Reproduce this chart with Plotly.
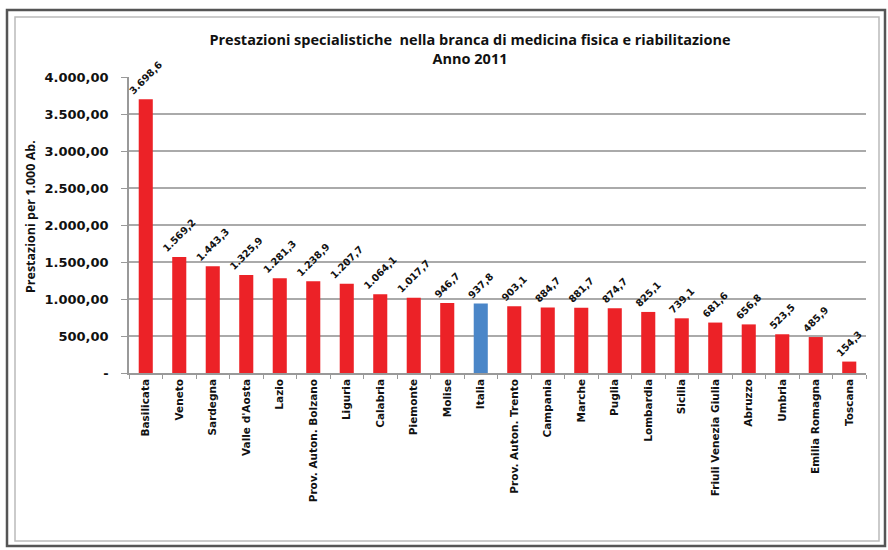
import plotly.graph_objects as go

regions = ["Basilicata", "Veneto", "Sardegna", "Valle d'Aosta", "Lazio",
           "Prov. Auton. Bolzano", "Liguria", "Calabria", "Piemonte", "Molise",
           "Italia", "Prov. Auton. Trento", "Campania", "Marche", "Puglia",
           "Lombardia", "Sicilia", "Friuli Venezia Giulia", "Abruzzo", "Umbria",
           "Emilia Romagna", "Toscana"]
values = [3698.6, 1569.2, 1443.3, 1325.9, 1281.3, 1238.9, 1207.7, 1064.1,
          1017.7, 946.7, 937.8, 903.1, 884.7, 881.7, 874.7, 825.1, 739.1,
          681.6, 656.8, 523.5, 485.9, 154.3]
y_tickvals = [0, 500, 1000, 1500, 2000, 2500, 3000, 3500, 4000]
y_ticktext = ["-", "500,00", "1.000,00", "1.500,00", "2.000,00", "2.500,00",
              "3.000,00", "3.500,00", "4.000,00"]

RED = "#ec2227"
BLUE = "#4a86c8"
colors = [BLUE if r == "Italia" else RED for r in regions]


def it_fmt(v):
    s = f"{v:,.1f}"
    return s.replace(",", "X").replace(".", ",").replace("X", ".")


labels = [it_fmt(v) for v in values]

DV = "'DejaVu Sans', sans-serif"
OS = "'Open Sans', sans-serif"

fig = go.Figure(go.Bar(
    x=regions, y=values, marker_color=colors, marker_line_width=0,
    text=[f"<b>{t}</b>" for t in labels], textposition="outside", textangle=-45,
    constraintext="none",
    textfont=dict(family=DV, size=9.8, color="#111"),
    cliponaxis=False, width=0.42,
))

W, H = 888, 550
L, R, T, B = 129, 22, 77, 177
pw, ph = W - L - R, H - T - B


def px(x):
    return (x - L) / pw


def py(y):
    return (H - B - y) / ph


shapes = [
    dict(type="rect", xref="paper", yref="paper", x0=px(7), x1=px(885),
         y0=py(546), y1=py(10), line=dict(color="#555", width=2.5), layer="below"),
    dict(type="rect", xref="paper", yref="paper", x0=px(15), x1=px(879),
         y0=py(541), y1=py(17), line=dict(color="#bbb", width=1.5), layer="below"),
]

fig.update_layout(
    width=W, height=H, margin=dict(l=L, r=R, t=T, b=B, autoexpand=False),
    paper_bgcolor="white", plot_bgcolor="white",
    font=dict(family=OS, color="#111"),
    showlegend=False,
    title=dict(text="<b>Prestazioni specialistiche  nella branca di medicina fisica e riabilitazione<br>Anno 2011</b>",
               xref="container", x=470 / W, xanchor="center",
               yref="container", y=1 - 45 / H, yanchor="middle",
               font=dict(family=OS, size=14.5, color="#111")),
    shapes=shapes,
    bargap=0.58,
    annotations=[dict(text="<b>Prestazioni per 1.000 Ab.</b>", xref="paper", yref="paper",
                      x=px(30), y=py(217), xanchor="center", yanchor="middle",
                      textangle=-90, showarrow=False,
                      font=dict(family=OS, size=12.5, color="#111"))],
)
fig.update_xaxes(
    type="category", tickangle=-90, tickson="boundaries", ticks="outside",
    ticklen=4, tickcolor="#999", showline=True, linecolor="#999", linewidth=1.5,
    tickfont=dict(family=DV, size=10.5, color="#111"), automargin=False,
    tickprefix="<b>", ticksuffix="</b>", showgrid=False,
)
fig.update_yaxes(
    range=[0, 4000], tickvals=y_tickvals, ticktext=[f"<b>{t}</b>" for t in y_ticktext],
    ticks="outside", ticklen=6, tickcolor="#999", showline=True, linecolor="#999",
    linewidth=1.5, gridcolor="#aaa", gridwidth=1.5, zeroline=False, automargin=False,
    ticklabelstandoff=10,
    tickfont=dict(family=DV, size=13, color="#111"),
)

fig.write_html("out.html", config={"displayModeBar": False},
               post_script="document.body.style.margin='0px';")
